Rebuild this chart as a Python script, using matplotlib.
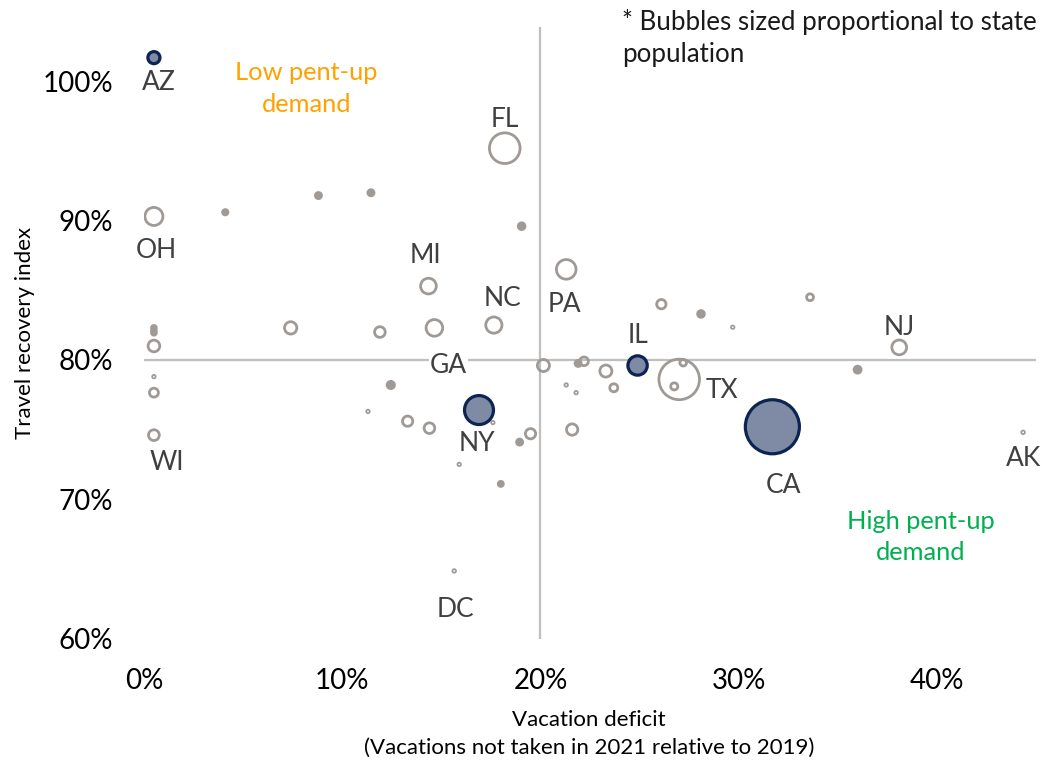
import matplotlib
matplotlib.use("Agg")
import matplotlib.pyplot as plt
from matplotlib.ticker import PercentFormatter

plt.rcParams['font.family'] = ['Lato', 'DejaVu Sans']

# Labelled states: vacation deficit (%), travel recovery index (%), population (millions)
lab_state = ["AZ", "OH", "FL", "MI", "PA", "WI", "GA", "NC", "NY", "IL", "TX", "CA", "NJ", "AK", "DC"]
lab_deficit = [0.5, 0.5, 18.2, 14.35, 21.3, 0.5, 14.65, 17.65, 16.9, 24.9, 27.0, 31.7, 38.1, 44.35, 15.65]
lab_recovery = [101.7, 90.3, 95.2, 85.3, 86.5, 74.6, 82.3, 82.5, 76.4, 79.6, 78.6, 75.2, 80.9, 74.8, 64.85]
lab_pop = [7.2, 11.8, 21.5, 10.0, 13.0, 6.2, 10.7, 10.4, 20.2, 12.8, 29.1, 39.5, 9.3, 0.7, 0.7]

# states highlighted in navy
key_states = ["AZ", "NY", "IL", "CA"]

# remaining states (unlabelled), open rings
ring_deficit = [0.5, 0.5, 0.5, 0.5, 7.4, 11.9, 0.5, 0.5, 11.3, 20.15, 22.2, 23.3, 23.7, 21.3,
                21.8, 13.3, 14.4, 17.6, 19.5, 21.6, 15.9, 26.1, 29.7, 27.2, 26.75, 33.6]
ring_recovery = [82.3, 82.1, 81.95, 81.0, 82.3, 82.0, 78.8, 77.65, 76.3, 79.6, 79.9, 79.2, 78.0, 78.2,
                 77.65, 75.6, 75.1, 75.5, 74.7, 75.0, 72.5, 84.0, 82.35, 79.8, 78.1, 84.5]
ring_pop = [1.6, 1.4, 1.6, 6.9, 7.4, 6.1, 0.6, 4.8, 0.6, 7.2, 4.6, 7.2, 4.1, 0.6,
            0.6, 5.8, 6.1, 0.6, 5.8, 6.6, 0.6, 5.1, 0.6, 3.0, 3.4, 3.2]

# remaining states (unlabelled), small solid dots
dot_deficit = [4.1, 8.8, 11.45, 19.05, 12.45, 21.9, 18.95, 28.1, 36.0, 18.0]
dot_recovery = [90.6, 91.8, 92.0, 89.6, 78.2, 79.75, 74.1, 83.3, 79.3, 71.1]
dot_pop = [2.0, 2.6, 2.6, 3.1, 3.5, 2.6, 2.6, 3.1, 3.3, 1.8]

GRAY = "#A09A96"
NAVY = "#0B2452"
SLATE = "#7F8BA4"
LABEL = "#404040"
PX = 0.72  # points per pixel at dpi 100
W, H = 1042, 761


def bubble_size(pop):
    d = (2.7 + 1.3 * pop) * PX
    return d * d


def ring_width(pop):
    # tiny bubbles get a thinner outline so the hole stays visible
    return 1.25 if pop < 1 else 2.0


fig = plt.figure(figsize=(W / 100, H / 100), dpi=100)
ax = fig.add_axes([144 / W, 1 - 638.5 / H, (1036 - 144) / W, (638.5 - 27) / H])

ax.axhline(80, color="#BFBFBF", lw=1.6, zorder=1)
ax.axvline(20, color="#BFBFBF", lw=1.6, zorder=1)

# open rings (labelled ones that are not highlighted + unlabelled)
rx, ry, rp = list(ring_deficit), list(ring_recovery), list(ring_pop)
for s, x, y, p in zip(lab_state, lab_deficit, lab_recovery, lab_pop):
    if s not in key_states:
        rx.append(x); ry.append(y); rp.append(p)
order = sorted(range(len(rp)), key=lambda i: -rp[i])
ax.scatter([rx[i] for i in order], [ry[i] for i in order],
           s=[bubble_size(rp[i]) for i in order],
           facecolors="none", edgecolors=GRAY,
           linewidths=[ring_width(rp[i]) for i in order], zorder=3)

ax.scatter(dot_deficit, dot_recovery, s=[bubble_size(p) for p in dot_pop],
           facecolors=GRAY, edgecolors=GRAY, linewidths=2.0, zorder=4)

kx = [x for s, x in zip(lab_state, lab_deficit) if s in key_states]
ky = [y for s, y in zip(lab_state, lab_recovery) if s in key_states]
kp = [p for s, p in zip(lab_state, lab_pop) if s in key_states]
ax.scatter(kx, ky, s=[bubble_size(p) for p in kp], facecolors=SLATE,
           edgecolors=NAVY, linewidths=2.3, zorder=5)

# label offsets in pixels (right, down)
offsets = {"AZ": (5, 25), "OH": (2, 34), "FL": (0, -29), "MI": (-3, -31), "PA": (-2, 35),
           "WI": (13, 27.5), "GA": (14, 38), "NC": (8.5, -27), "NY": (-2, 33.5), "IL": (0, -30),
           "TX": (43, 11), "CA": (11, 59), "NJ": (0, -20), "AK": (0, 26), "DC": (1, 39)}
for s, x, y in zip(lab_state, lab_deficit, lab_recovery):
    dx, dy = offsets[s]
    bbox = dict(facecolor="white", edgecolor="none", pad=1) if s == "GA" else None
    ax.annotate(s, (x, y), xytext=(dx * PX, -dy * PX), textcoords="offset points",
                ha="center", va="center", fontsize=19, color=LABEL, bbox=bbox, zorder=6)

ax.text(8.2, 99.5, "Low pent-up\ndemand", ha="center", va="center", fontsize=18.3,
        color="#FFA200", linespacing=1.45)
ax.text(39.2, 67.3, "High pent-up\ndemand", ha="center", va="center", fontsize=18.3,
        color="#00B050", linespacing=1.45)

fig.text(622 / W, 1 - 9 / H, "* Bubbles sized proportional to state\npopulation",
         ha="left", va="top", fontsize=18.6, color="#1A1A1A", linespacing=1.35)

ax.set_xlim(0, 45)
ax.set_ylim(60, 103.9)
ax.set_xticks([0, 10, 20, 30, 40])
ax.set_yticks([60, 70, 80, 90, 100])
ax.xaxis.set_major_formatter(PercentFormatter(decimals=0))
ax.yaxis.set_major_formatter(PercentFormatter(decimals=0))
ax.tick_params(length=0, labelsize=20, colors="black")
ax.tick_params(axis="x", pad=21)
ax.tick_params(axis="y", pad=22)
for sp in ax.spines.values():
    sp.set_visible(False)

# axis titles
fig.text(589 / W, 1 - 720 / H, "Vacation deficit", ha="center", va="center", fontsize=16)
fig.text(589 / W, 1 - 748 / H, "(Vacations not taken in 2021 relative to 2019)",
         ha="center", va="center", fontsize=16)
fig.text(25 / W, 1 - 333 / H, "Travel recovery index", ha="center", va="center",
         rotation=90, fontsize=16)

fig.savefig("out.png", dpi=100)
